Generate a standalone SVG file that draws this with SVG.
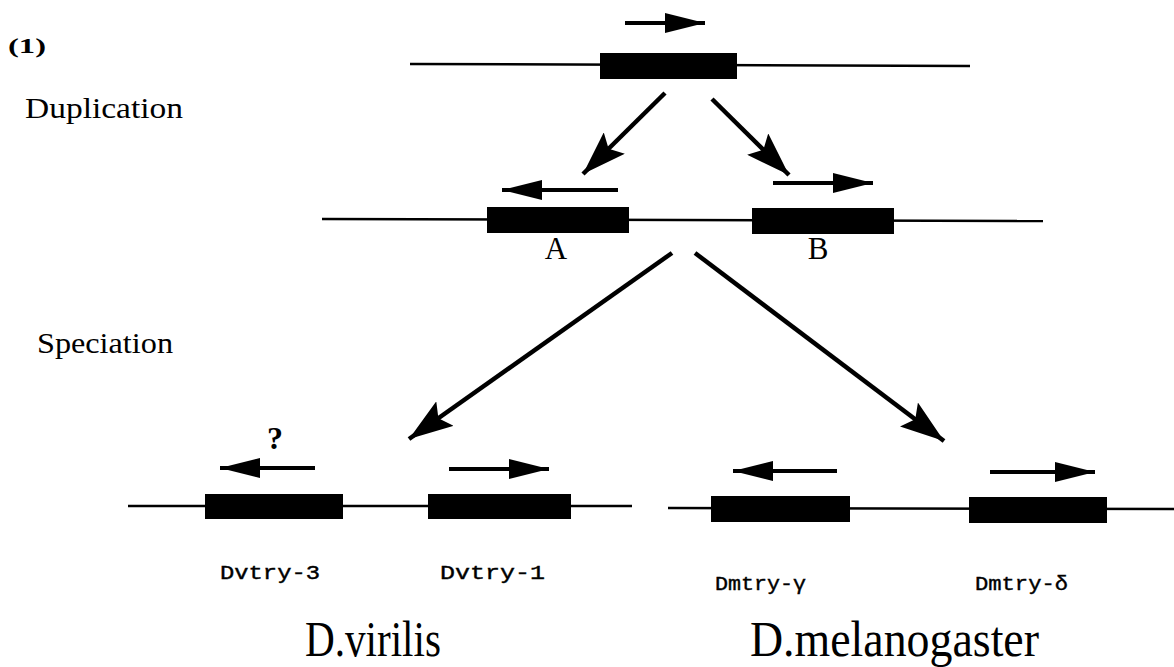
<svg xmlns="http://www.w3.org/2000/svg" width="1174" height="667" viewBox="0 0 1174 667">
<defs>
<marker id="ah" viewBox="0 0 44 30" refX="44" refY="15" markerWidth="44" markerHeight="30" markerUnits="userSpaceOnUse" orient="auto"><path d="M0,0 L44,15 L0,30 L8,15 Z" fill="#000"/></marker>
<marker id="gh" viewBox="0 0 40 20" refX="40" refY="10" markerWidth="40" markerHeight="20" markerUnits="userSpaceOnUse" orient="auto"><path d="M0,0 L40,10 L0,20 Z" fill="#000"/></marker>
</defs>
<style>
.dna{stroke:#000;stroke-width:2.5;fill:none}
.gene{fill:#000}
.dir{stroke:#000;stroke-width:4;fill:none;marker-end:url(#gh)}
.conn{stroke:#000;stroke-width:4.5;fill:none;marker-end:url(#ah)}
.ser{font-family:"Liberation Serif",serif;fill:#000}
.mono{font-family:"Liberation Mono",monospace;font-size:20px;fill:#000;stroke:#000;stroke-width:0.4}
</style>
<rect width="1174" height="667" fill="#fff"/>
<text class="ser" x="8" y="53" font-size="22" font-weight="bold" textLength="38" lengthAdjust="spacingAndGlyphs">(1)</text>
<text class="ser" x="25" y="118" font-size="29" textLength="158" lengthAdjust="spacingAndGlyphs">Duplication</text>
<text class="ser" x="37" y="353" font-size="29" textLength="136" lengthAdjust="spacingAndGlyphs">Speciation</text>

<g id="ancestral">
<line class="dna" x1="410" y1="64" x2="970" y2="66"/>
<rect class="gene" x="600" y="53" width="137" height="26"/>
<line class="dir" x1="625" y1="23" x2="705" y2="23"/>
</g>

<g id="duplicated">
<line class="dna" x1="322" y1="219" x2="1043" y2="221"/>
<rect class="gene" x="487" y="207" width="142" height="26"/>
<rect class="gene" x="752" y="208" width="142" height="26"/>
<line class="dir" x1="618" y1="190" x2="502" y2="190"/>
<line class="dir" x1="773" y1="183" x2="873" y2="183"/>
<text class="ser" x="556" y="259" font-size="31" text-anchor="middle">A</text>
<text class="ser" x="818" y="259" font-size="31" text-anchor="middle">B</text>
</g>

<g id="virilis">
<line class="dna" x1="128" y1="506" x2="632" y2="506"/>
<rect class="gene" x="205" y="494" width="138" height="25"/>
<rect class="gene" x="428" y="494" width="143" height="25"/>
<line class="dir" x1="315" y1="468" x2="220" y2="468"/>
<line class="dir" x1="449" y1="469" x2="549" y2="469"/>
<text class="ser" x="275" y="449" font-size="32" font-weight="bold" text-anchor="middle">?</text>
<text class="mono" x="220" y="579" textLength="100" lengthAdjust="spacingAndGlyphs">Dvtry-3</text>
<text class="mono" x="440" y="579" textLength="105" lengthAdjust="spacingAndGlyphs">Dvtry-1</text>
<text class="ser" x="305" y="656" font-size="50" textLength="136" lengthAdjust="spacingAndGlyphs">D.virilis</text>
</g>

<g id="melanogaster">
<line class="dna" x1="668" y1="508" x2="1174" y2="509"/>
<rect class="gene" x="711" y="496" width="139" height="26"/>
<rect class="gene" x="969" y="497" width="138" height="26"/>
<line class="dir" x1="837" y1="471" x2="733" y2="471"/>
<line class="dir" x1="990" y1="472" x2="1095" y2="472"/>
<text class="mono" x="715" y="590" textLength="91" lengthAdjust="spacingAndGlyphs">Dmtry-γ</text>
<text class="mono" x="975" y="590" textLength="93" lengthAdjust="spacingAndGlyphs">Dmtry-δ</text>
<text class="ser" x="750" y="656" font-size="50" textLength="289" lengthAdjust="spacingAndGlyphs">D.melanogaster</text>
</g>

<g id="connectors">
<line class="conn" x1="665" y1="93" x2="583" y2="174"/>
<line class="conn" x1="712" y1="99" x2="789" y2="175"/>
<line class="conn" x1="672" y1="253" x2="409" y2="439"/>
<line class="conn" x1="695" y1="253" x2="944" y2="441"/>
</g>
</svg>
